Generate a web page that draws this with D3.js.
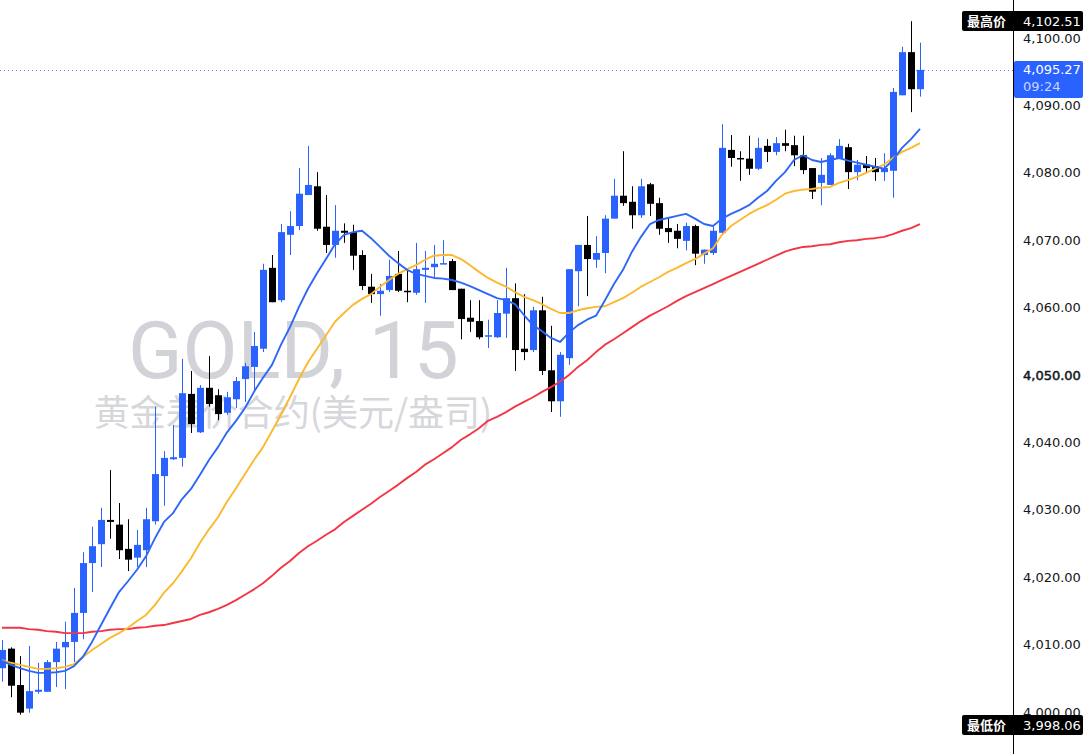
<!DOCTYPE html>
<html>
<head>
<meta charset="utf-8">
<script src="https://cdn.jsdelivr.net/npm/d3@7"></script>
<style>
  body { margin: 0; background: #fff; }
  svg { display: block; }
</style>
</head>
<body>
<div id="chart"></div>
<script>
// 15 minute candles
const open = [
  4006.5, 4009.4, 4004.0, 4000.5, 4003.0, 4003.0, 4007.4, 4009.6, 4010.4, 4014.7,
  4022.1, 4024.9, 4028.5, 4027.8, 4024.2, 4022.9, 4024.0, 4028.3, 4035.0, 4037.5,
  4037.7, 4047.2, 4041.5, 4048.1, 4047.0, 4044.4, 4046.4, 4049.4, 4051.2, 4053.9,
  4065.9, 4061.1, 4070.8, 4072.1, 4076.7, 4078.0, 4072.0, 4069.3, 4071.4, 4071.2,
  4067.8, 4063.1, 4062.0, 4062.6, 4065.0, 4062.5, 4062.2, 4065.6, 4066.0, 4066.5,
  4066.9, 4062.8, 4058.5, 4058.0, 4055.8, 4055.6, 4059.1, 4061.4, 4053.9, 4053.7,
  4059.6, 4050.7, 4046.1, 4052.5, 4065.4, 4069.3, 4067.1, 4068.1, 4073.2, 4076.6,
  4075.7, 4073.7, 4078.3, 4075.5, 4071.8, 4071.4, 4069.9, 4072.1, 4067.8, 4068.1,
  4071.1, 4083.4, 4082.2, 4082.1, 4080.6, 4084.0, 4083.1, 4084.4, 4084.1, 4082.6,
  4080.7, 4078.5, 4078.2, 4082.1, 4083.8, 4080.1, 4081.2, 4081.0, 4080.1, 4080.3,
  4091.5, 4097.9, 4092.4
]
const high = [
  4010.7, 4009.6, 4008.3, 4009.8, 4007.3, 4007.7, 4010.4, 4013.4, 4018.4, 4023.7,
  4027.5, 4030.3, 4035.9, 4031.0, 4028.6, 4027.0, 4030.3, 4045.3, 4038.7, 4042.6,
  4052.4, 4050.6, 4048.5, 4052.8, 4047.9, 4047.5, 4049.7, 4051.8, 4056.4, 4066.5,
  4067.8, 4072.4, 4074.3, 4080.7, 4084.0, 4080.1, 4076.7, 4075.2, 4072.5, 4072.3,
  4068.5, 4065.0, 4063.5, 4067.1, 4068.4, 4065.6, 4069.6, 4068.4, 4069.3, 4070.0,
  4067.2, 4062.8, 4061.1, 4061.1, 4058.2, 4061.1, 4065.9, 4063.6, 4062.0, 4060.1,
  4061.6, 4057.3, 4053.4, 4065.7, 4069.3, 4073.6, 4070.6, 4073.7, 4079.1, 4083.2,
  4078.0, 4079.1, 4078.5, 4076.3, 4073.2, 4072.4, 4072.6, 4072.3, 4068.6, 4072.0,
  4087.2, 4085.6, 4083.2, 4085.5, 4085.2, 4085.0, 4085.3, 4086.4, 4085.5, 4085.5,
  4080.7, 4082.2, 4082.9, 4085.0, 4084.3, 4081.9, 4082.5, 4082.2, 4082.9, 4092.6,
  4098.7, 4102.5, 4099.3
]
const low = [
  4004.5, 4002.2, 3999.6, 3999.9, 4002.7, 4003.0, 4003.7, 4003.4, 4007.4, 4010.8,
  4017.8, 4021.5, 4025.7, 4022.7, 4020.9, 4021.5, 4021.5, 4027.8, 4030.6, 4037.4,
  4036.4, 4041.4, 4041.4, 4045.3, 4043.3, 4044.1, 4045.1, 4046.0, 4047.6, 4053.4,
  4060.8, 4060.8, 4067.8, 4071.5, 4076.7, 4071.4, 4068.1, 4067.4, 4069.6, 4065.6,
  4062.6, 4060.7, 4058.8, 4062.3, 4062.3, 4060.8, 4061.9, 4060.7, 4064.5, 4066.5,
  4062.6, 4055.3, 4056.4, 4055.3, 4054.0, 4055.5, 4055.5, 4050.6, 4052.2, 4053.4,
  4050.0, 4044.5, 4043.8, 4051.5, 4060.2, 4061.7, 4065.9, 4065.1, 4073.2, 4075.1,
  4071.7, 4073.3, 4073.6, 4070.8, 4069.6, 4068.8, 4068.5, 4066.3, 4066.5, 4067.8,
  4070.8, 4080.9, 4078.8, 4079.7, 4080.4, 4081.6, 4082.6, 4083.2, 4081.0, 4079.8,
  4076.1, 4075.2, 4078.2, 4082.1, 4077.6, 4078.9, 4080.1, 4078.8, 4078.8, 4076.3,
  4091.5, 4089.0, 4091.3
]
const close = [
  4009.2, 4003.9, 3999.9, 4003.1, 4003.3, 4007.4, 4009.4, 4010.4, 4014.7, 4022.1,
  4024.6, 4028.5, 4028.2, 4024.0, 4022.6, 4024.8, 4028.6, 4035.3, 4037.7, 4037.8,
  4047.3, 4042.7, 4048.1, 4045.7, 4044.2, 4046.7, 4049.1, 4051.3, 4054.3, 4065.6,
  4060.8, 4071.2, 4072.1, 4076.9, 4078.2, 4071.7, 4069.3, 4071.4, 4071.1, 4067.7,
  4063.2, 4062.0, 4062.5, 4064.7, 4062.5, 4062.3, 4065.7, 4065.9, 4066.5, 4066.6,
  4062.6, 4058.3, 4057.9, 4055.6, 4055.9, 4059.2, 4061.4, 4053.7, 4053.4, 4059.6,
  4050.6, 4046.1, 4053.0, 4065.7, 4069.3, 4067.2, 4068.1, 4073.2, 4076.6, 4075.5,
  4073.7, 4078.0, 4075.4, 4071.7, 4071.2, 4070.2, 4072.1, 4068.0, 4068.6, 4071.4,
  4083.7, 4082.2, 4082.1, 4080.6, 4083.7, 4083.1, 4084.4, 4084.0, 4082.6, 4080.4,
  4077.2, 4079.7, 4082.6, 4084.0, 4080.1, 4081.2, 4080.7, 4080.1, 4080.7, 4092.0,
  4097.9, 4092.4, 4095.27
]

// moving averages as drawn (one value per candle)
const maFast = [
  4007.6, 4007.0, 4006.5, 4006.1, 4005.8, 4005.8, 4005.9, 4006.1, 4006.8, 4008.2,
  4010.4, 4012.9, 4015.4, 4017.8, 4019.4, 4021.1, 4023.1, 4025.8, 4028.2, 4029.5,
  4031.6, 4033.1, 4035.2, 4037.4, 4039.3, 4041.5, 4043.2, 4045.1, 4047.5, 4049.6,
  4051.5, 4054.5, 4057.1, 4060.1, 4062.8, 4065.1, 4067.2, 4069.4, 4070.8, 4071.2,
  4071.4, 4070.3, 4069.0, 4067.7, 4066.6, 4065.6, 4065.0, 4064.7, 4064.4, 4064.3,
  4064.1, 4063.7, 4063.2, 4062.6, 4062.0, 4061.4, 4061.1, 4060.5, 4058.9, 4057.4,
  4056.5, 4055.5, 4054.9, 4056.3, 4057.4, 4058.2, 4058.8, 4061.1, 4063.5, 4065.6,
  4068.3, 4070.5, 4072.4, 4073.0, 4073.3, 4073.6, 4073.9, 4073.2, 4072.4, 4072.1,
  4073.2, 4073.9, 4074.5, 4075.2, 4076.3, 4077.3, 4078.8, 4080.1, 4081.9, 4082.6,
  4081.9, 4081.6, 4081.9, 4082.2, 4081.8, 4081.5, 4081.2, 4080.9, 4080.6, 4081.9,
  4083.7, 4085.0, 4086.5
]
const maMid = [
  4007.7, 4007.3, 4007.0, 4006.7, 4006.4, 4006.4, 4006.5, 4006.7, 4007.1, 4008.2,
  4009.2, 4010.1, 4011.0, 4011.7, 4012.5, 4013.5, 4014.4, 4015.9, 4017.7, 4019.1,
  4020.9, 4022.8, 4025.1, 4027.1, 4028.9, 4031.2, 4033.2, 4035.3, 4037.4, 4039.3,
  4041.7, 4044.1, 4046.7, 4049.4, 4051.9, 4053.9, 4055.9, 4057.9, 4059.2, 4060.4,
  4061.3, 4062.0, 4063.1, 4064.1, 4065.0, 4065.7, 4066.3, 4067.1, 4067.7, 4067.8,
  4067.8, 4067.2, 4066.3, 4065.3, 4064.4, 4063.7, 4063.1, 4062.3, 4061.6, 4061.1,
  4060.5, 4059.8, 4059.2, 4059.2, 4059.6, 4059.9, 4060.1, 4060.2, 4060.8, 4061.4,
  4062.2, 4063.1, 4063.8, 4064.5, 4065.3, 4065.9, 4066.6, 4067.2, 4068.0, 4068.8,
  4070.8, 4072.1, 4073.0, 4073.9, 4074.6, 4075.2, 4076.0, 4076.9, 4077.3, 4077.5,
  4077.6, 4077.8, 4077.9, 4078.5, 4078.9, 4079.4, 4080.0, 4080.6, 4081.2, 4082.2,
  4083.1, 4083.7, 4084.4
]
const maSlow = [
  4012.5, 4012.5, 4012.5, 4012.3, 4012.2, 4012.0, 4011.9, 4011.7, 4011.7, 4011.7,
  4011.9, 4012.0, 4012.2, 4012.3, 4012.3, 4012.5, 4012.6, 4012.8, 4012.9, 4013.2,
  4013.5, 4013.8, 4014.4, 4014.8, 4015.3, 4015.9, 4016.6, 4017.4, 4018.2, 4019.1,
  4020.2, 4021.4, 4022.4, 4023.6, 4024.6, 4025.4, 4026.3, 4027.1, 4028.2, 4029.1,
  4030.0, 4030.9, 4031.9, 4032.8, 4033.7, 4034.7, 4035.6, 4036.7, 4037.5, 4038.4,
  4039.3, 4040.4, 4041.2, 4042.1, 4043.2, 4043.8, 4044.5, 4045.3, 4046.0, 4046.7,
  4047.5, 4048.2, 4049.0, 4050.0, 4051.2, 4052.2, 4053.4, 4054.5, 4055.3, 4056.2,
  4057.1, 4058.0, 4058.8, 4059.5, 4060.2, 4061.0, 4061.7, 4062.3, 4062.9, 4063.5,
  4064.1, 4064.7, 4065.3, 4065.9, 4066.5, 4067.1, 4067.7, 4068.3, 4068.7, 4069.0,
  4069.1, 4069.3, 4069.4, 4069.7, 4069.9, 4070.0, 4070.2, 4070.3, 4070.5, 4070.9,
  4071.4, 4071.8, 4072.4
]

const yTicks = [4000, 4010, 4020, 4030, 4040, 4050, 4060, 4070, 4080, 4090, 4100]
const highestPrice = 4102.51
const lowestPrice = 3998.06
const lastPrice = 4095.27
const countdown = '09:24'
const symbolText = 'GOLD, 15'
const symbolDesc = '黄金差价合约(美元/盎司)'

const width = 1084,
  height = 754,
  axisX = 1013

const svg = d3
  .select('#chart')
  .append('svg')
  .attr('width', width)
  .attr('height', height)

const x = d3.scaleLinear().domain([0, open.length - 1]).range([2, 920])
const y = d3.scaleLinear().domain([4000, 4100]).range([712, 38])
const fmt = d3.format(',.2f')

const up = '#2962ff',
  down = '#000000'

// watermark
const wm = svg.append('g').attr('fill', '#d1d3d8')
wm.append('text')
  .attr('x', 128)
  .attr('y', 378)
  .style('font', '80px Roboto, sans-serif')
  .style('word-spacing', '4px')
  .text(symbolText)
wm.append('text')
  .attr('x', 293)
  .attr('y', 426)
  .attr('text-anchor', 'middle')
  .attr('fill', '#d6d7db')
  .style('font', "36px 'Noto Sans CJK SC', sans-serif")
  .text(symbolDesc)

// last price line
svg
  .append('line')
  .attr('x1', 0)
  .attr('x2', axisX)
  .attr('y1', Math.round(y(lastPrice)) + 0.5)
  .attr('y2', Math.round(y(lastPrice)) + 0.5)
  .attr('stroke', '#5a7de8')
  .attr('stroke-dasharray', '1,3')

// candles
const candles = d3.range(open.length).map((i) => ({
  i,
  o: open[i],
  h: high[i],
  l: low[i],
  c: close[i],
}))

const g = svg.append('g')
g.selectAll('line.wick')
  .data(candles)
  .join('line')
  .attr('class', 'wick')
  .attr('x1', (d) => Math.round(x(d.i)) + 0.5)
  .attr('x2', (d) => Math.round(x(d.i)) + 0.5)
  .attr('y1', (d) => y(d.h))
  .attr('y2', (d) => y(d.l))
  .attr('stroke', (d) => (d.c >= d.o ? up : down))

g.selectAll('rect.body')
  .data(candles)
  .join('rect')
  .attr('class', 'body')
  .attr('x', (d) => Math.round(x(d.i)) - 3)
  .attr('width', 7)
  .attr('y', (d) => y(Math.max(d.o, d.c)))
  .attr('height', (d) => Math.max(1.5, Math.abs(y(d.o) - y(d.c))))
  .attr('fill', (d) => (d.c >= d.o ? up : down))

// moving averages
const maLine = (arr) =>
  d3
    .line()
    .x((d, i) => x(i))
    .y((d) => y(d))(arr)

const maStyles = [
  [maSlow, '#f23645'],
  [maMid, '#fbb92d'],
  [maFast, '#2e66f6'],
]
maStyles.forEach(([arr, col]) => {
  svg
    .append('path')
    .attr('d', maLine(arr))
    .attr('fill', 'none')
    .attr('stroke', col)
    .attr('stroke-width', 1.9)
    .attr('stroke-linejoin', 'round')
})

// right price scale
svg
  .append('line')
  .attr('x1', axisX + 0.5)
  .attr('x2', axisX + 0.5)
  .attr('y1', 0)
  .attr('y2', height)
  .attr('stroke', '#000')

svg
  .append('g')
  .selectAll('text')
  .data(yTicks)
  .join('text')
  .attr('x', 1023)
  .attr('y', (d) => y(d))
  .attr('dy', '0.35em')
  .attr('fill', '#131722')
  .attr('stroke', (d) => (d === 4050 ? '#131722' : 'none'))
  .attr('stroke-width', 0.5)
  .style('font', "13px 'DejaVu Sans', sans-serif")
  .text((d) => fmt(d))

// high / low labels
const extremeLabel = (title, value) => {
  const yy = y(value)
  const lg = svg.append('g')
  lg.append('rect')
    .attr('x', 962)
    .attr('y', yy - 10)
    .attr('width', 121)
    .attr('height', 20)
    .attr('rx', 2)
    .attr('fill', '#000')
  lg.append('text')
    .attr('x', 967)
    .attr('y', yy)
    .attr('dy', '0.35em')
    .attr('fill', '#fff')
    .style('font', "bold 13px 'Noto Sans CJK SC', sans-serif")
    .text(title)
  lg.append('text')
    .attr('x', 1023)
    .attr('y', yy)
    .attr('dy', '0.35em')
    .attr('fill', '#fff')
    .style('font', "13px 'DejaVu Sans', sans-serif")
    .text(fmt(value))
}
extremeLabel('最高价', highestPrice)
extremeLabel('最低价', lowestPrice)

// last price label
const lp = svg.append('g')
lp.append('rect')
  .attr('x', axisX + 1)
  .attr('y', y(lastPrice) - 9)
  .attr('width', 69)
  .attr('height', 37)
  .attr('rx', 2)
  .attr('fill', up)
lp.append('text')
  .attr('x', 1023)
  .attr('y', y(lastPrice))
  .attr('dy', '0.35em')
  .attr('fill', '#fff')
  .style('font', "13px 'DejaVu Sans', sans-serif")
  .text(fmt(lastPrice))
lp.append('text')
  .attr('x', 1023)
  .attr('y', y(lastPrice) + 17)
  .attr('dy', '0.35em')
  .attr('fill', '#c9d6ff')
  .style('font', "13px 'DejaVu Sans', sans-serif")
  .text(countdown)
</script>
</body>
</html>
